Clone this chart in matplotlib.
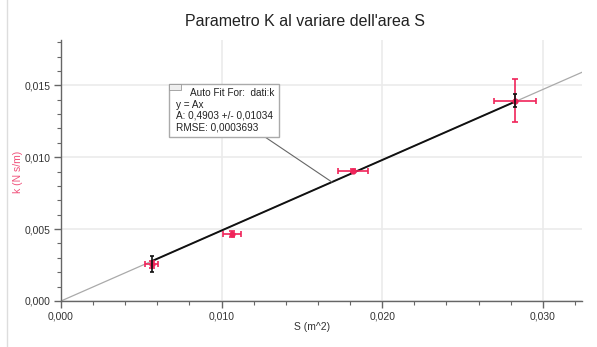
import matplotlib
matplotlib.use("Agg")
import matplotlib.pyplot as plt
from matplotlib.ticker import MultipleLocator, FuncFormatter
from matplotlib.patches import Rectangle
from matplotlib.lines import Line2D

plt.rcParams['font.family'] = ['Liberation Sans', 'DejaVu Sans']

# Data
S = [0.00565, 0.01067, 0.01820, 0.02827]
k = [0.00255, 0.00466, 0.00906, 0.01393]
S_err = [0.00042, 0.00056, 0.00093, 0.00129]
k_err = [0.00024, 0.00020, 0.00010, 0.00151]
A_fit = 0.4903
fit_lines = ["y = Ax", "A: 0,4903 +/- 0,01034", "RMSE: 0,0003693"]
fit_head = "Auto Fit For:  dati:k"
title = "Parametro K al variare dell'area S"
xlabel = "S (m^2)"
ylabel = "k (N s/m)"
xlim = (0.0, 0.03244)
ylim = (0.0, 0.01815)

W, H = 597, 347
fig = plt.figure(figsize=(W / 100, H / 100), dpi=100)
ax = fig.add_axes([61 / W, 1 - 301 / H, (582 - 61) / W, (301 - 40) / H])

red = '#f0245a'
axis_col = '#666666'

ax.set_xlim(*xlim)
ax.set_ylim(*ylim)
for s in ['top', 'right']:
    ax.spines[s].set_visible(False)
for s in ['left', 'bottom']:
    ax.spines[s].set_color(axis_col)
    ax.spines[s].set_linewidth(1.0)

ax.xaxis.set_major_locator(MultipleLocator(0.010))
ax.xaxis.set_minor_locator(MultipleLocator(0.002))
ax.yaxis.set_major_locator(MultipleLocator(0.005))
ax.yaxis.set_minor_locator(MultipleLocator(0.001))
fmt = FuncFormatter(lambda v, p: f"{v:.3f}".replace('.', ','))
ax.xaxis.set_major_formatter(fmt)
ax.yaxis.set_major_formatter(fmt)
ax.tick_params(which='major', direction='out', length=5, width=1, color=axis_col,
               labelsize=7.5, labelcolor='#333333', pad=2.5)
ax.tick_params(which='minor', direction='out', length=3, width=0.8, color=axis_col)
ax.grid(True, which='major', color='#ebebeb', linewidth=1.2)
ax.set_axisbelow(True)

# Fit line (grey over full range, black over fitted range)
ax.plot([xlim[0], xlim[1]], [A_fit * xlim[0], A_fit * xlim[1]], color='#aaaaaa', lw=0.9, zorder=2)
ax.plot([S[0], S[-1]], [A_fit * S[0], A_fit * S[-1]], color='#111111', lw=1.4, zorder=3)

# Data with error bars
ax.errorbar(S, k, xerr=S_err, yerr=k_err, fmt='o', color=red, ms=3.5,
            elinewidth=1.2, capsize=2.5, capthick=1.2, zorder=4)

# Black fit-range brackets at first and last points
ax.errorbar([S[0], S[-1]], [k[0], k[-1]], yerr=[0.00055, 0.00047], fmt='none',
            ecolor='#111111', elinewidth=1.2, capsize=1.5, capthick=1.2, zorder=5)

# Labels
fig.text(305 / W, 1 - 22 / H, title, ha='center', va='center', fontsize=11.5, color='#222222')
fig.text(312 / W, 1 - 327 / H, xlabel, ha='center', va='center', fontsize=7.5, color='#333333')
fig.text(18 / W, 1 - 172 / H, ylabel, ha='center', va='center', fontsize=7.5, color='#f0507a',
         rotation=90)

# Annotation box
bx0, by0, bx1, by1 = 169, 84, 279, 137
fig.add_artist(Rectangle((bx0 / W, 1 - by1 / H), (bx1 - bx0) / W, (by1 - by0) / H,
                         transform=fig.transFigure, facecolor='white', edgecolor='#aaaaaa',
                         lw=1.0, zorder=10))
fig.add_artist(Rectangle((bx0 / W, 1 - 90 / H), 12 / W, 6 / H, transform=fig.transFigure,
                         facecolor='#eeeeee', edgecolor='#999999', lw=0.6, zorder=11))
fig.text(190 / W, 1 - 93 / H, fit_head, ha='left', va='center', fontsize=7.2, color='#222222', zorder=12)
for i, line in enumerate(fit_lines):
    fig.text(176.5 / W, 1 - (104.5 + 11.4 * i) / H, line, ha='left', va='center', fontsize=7.2,
             color='#222222', zorder=12)

S_lead = 0.01687
ax.annotate('', xy=(S_lead, A_fit * S_lead), xycoords='data',
            xytext=(265 / W, 1 - 137 / H), textcoords='figure fraction',
            arrowprops=dict(arrowstyle='-', color='#666666', lw=0.8, shrinkA=0, shrinkB=0),
            zorder=6)

# Left border line of frame
fig.add_artist(Line2D([7 / W, 7 / W], [0, 1], transform=fig.transFigure, color='#dddddd', lw=1))

fig.savefig('out.png', dpi=100)
